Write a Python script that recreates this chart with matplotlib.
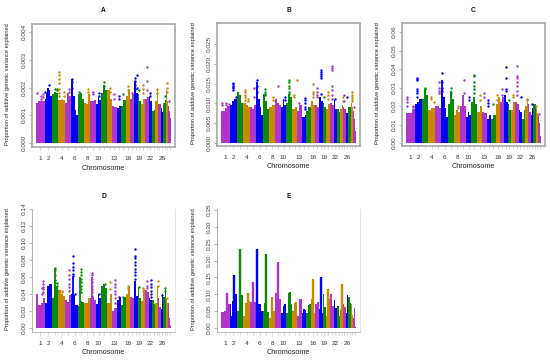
import matplotlib
matplotlib.use("Agg")
import matplotlib.pyplot as plt

plt.rcParams['font.family'] = ['Liberation Sans', 'DejaVu Sans']

W, H = 550, 363
chrom_mb = [158,137,121,120,121,119,113,113,105,104,107,91,84,84,85,81,75,66,64,72,71,61,52,62,43,51,45,46,51]
labelled = [1,2,4,6,8,10,13,16,19,22,26]
colours = ['#B035CC','#0000F5','#0A8A0A','#CC8800']
ylabel_txt = "Proportion of additive genetic variance explained"

# body heights, one list per chromosome (split evenly along it)
body_A = [[1.45,1.5,1.5,1.5],[1.6,1.8,2.0,1.9,1.7],[1.75,1.85,1.8],[1.55,1.55,1.6,1.55],[1.45,1.8,1.7],
          [2.2,1.7,1.2,1.0],[1.75,1.8,1.6],[1.45,1.4,1.75],[1.5,1.5,1.55],[1.4,1.65,1.55],
          [1.8,2.1,1.9],[1.9,1.6],[1.35,1.3],[1.25,1.35],[1.35,1.55],
          [1.7,1.95],[1.6,1.75],[2.25,1.8],[1.75,1.5],[1.4,1.6],
          [1.6,1.65],[1.7,1.5],[1.15,1.2],[1.5,1.9],[1.4,1.4],
          [1.25,1.1],[1.45,1.55],[1.9,1.5],[1.35,1.15,0.9]]
body_B = [[8,8.2,8.8,9.4],[9.5,10.5,11],[13,12,10],[10,9.5,9],[9,8.5,9.5],
          [14.5,11,9,7],[12.5,10.5,8.5],[9,9.5],[11,10,9.5],[9,11,9.5],
          [10,12.5,11.5],[8.5,9],[8,9.5],[6.5,6.5,7],[8,9],
          [10.5,9.5],[9.5,9],[11.5,10.5],[10,9],[8.5,9.8],
          [10,9.5],[10.8,8.5],[8.5,7.8],[8.5,9.5],[9,8.5],
          [7.5,7.5],[9,9],[10,9],[8,6,3]]
body_C = [[16,16,16,18.5],[21,22,24],[24,29,26],[18,19,19],[20,20,19],
          [30,25,19,14],[21,28,24],[15,18,17],[20,26,20],[14,17,15],
          [22,25,21],[17,20],[17,16],[13,15],[13,15],
          [21,25],[22,25],[26,22],[21,18],[18,22],
          [22,21],[18,17],[13,18],[20,23],[21,17],
          [15,19],[21,21],[19,16],[15,11,4]]
body_D = [[40,27,27,30,35],[30,30,50,52,52],[35,55,50],[45,40,38],[33,31,39],
          [40,39,27,27],[26,32,31],[30,30,35],[35,36,33],[28,40,35],
          [50,52,47],[30,40],[20,24],[33,36],[27,37],
          [40,50],[37,35],[55,38],[48,35],[32,46],
          [45,42],[35,33],[33,28],[30,50],[35,25],
          [22,40],[36,47],[34,30],[30,12,4]]
body_E = [[48,48,50,75,72],[70,35,80,100,100],[50,95,98],[35,75,78,80],[78,78,76],
          [85,70,72,50],[50,75,50,48],[30,80,50],[105,88,85],[45,65,70],
          [45,105,108,70],[50,75,76],[35,87,87],[45,57,52],[45,68,70],
          [85,80,45],[72,78],[55,60,45],[100,62],[35,115,85],
          [100,65],[83,60],[65,35],[55,60],[72,62],
          [45,97],[92,75],[72,40],[30,58,22,3]]

# narrow peaks: chromosome, place along it, height
stems_A = [(6,0.1,2.3)]
stems_B = [(6,0.1,15.5)]
stems_C = [(6,0.15,34)]
stems_D = [(3,0.4,71),(6,0.2,61),(7,0.4,60),(9,0.4,60)]
stems_E = [(1,0.75,105),(2,0.55,158),(3,0.45,233),(4,0.75,105),(5,0.5,137),(6,0.15,233),(7,0.55,220),(8,0.45,92),
           (9,0.55,197),(16,0.5,145),(18,0.5,150),(24,0.5,130),(20,0.5,115)]

# stacked points: chromosome, place along it, heights
dots_A = [(1,0.1,[1.8]),(1,0.6,[1.7,1.6]),(1,0.85,[1.75,1.65]),(2,0.55,[2.1]),(2,0.1,[1.85]),(3,0.4,[1.95]),(3,0.8,[1.95,1.9]),
          (4,0.15,[2.55,2.45,2.3,2.15,1.95,1.8,1.7]),(4,0.8,[1.85,1.7]),(5,0.6,[1.95,1.85]),(6,0.15,[2.3,2.2,2.0]),(7,0.2,[1.85]),
          (8,0.7,[1.95,1.85]),(9,0.5,[1.85,1.75]),(10,0.5,[1.8,1.7]),(11,0.5,[2.2,2.05]),(12,0.5,[2.0,1.85]),(13,0.5,[1.75,1.6]),
          (14,0.5,[1.7,1.6]),(15,0.5,[1.75]),(16,0.6,[2.05,1.9]),(17,0.4,[1.8]),(18,0.3,[2.35,2.25,2.1,1.95]),(18,0.8,[2.45,2.0]),
          (19,0.5,[1.9]),(20,0.5,[2.1,1.95,1.8]),(21,0.4,[2.75,2.25,1.9]),(22,0.5,[1.8,1.7]),(24,0.5,[1.95,1.8]),
          (27,0.5,[1.7]),(28,0.4,[2.15,2.0,1.85]),(29,0.1,[1.5])]
dots_B = [(1,0.1,[10.2,9.5]),(1,0.55,[10,9.5]),(1,0.9,[9.8]),(2,0.5,[15.2,14.8,14.5,14.2,13.8,13.4]),(2,0.9,[11.5]),
          (4,0.2,[13.5,13,12.2,11.5,10.8]),(4,0.7,[11,10.5]),(5,0.7,[14,11.5]),(6,0.1,[15.8,14.5,13]),(7,0.3,[13.7,13,12.5,12]),
          (8,0.6,[11.5,10.8]),(9,0.6,[14.5]),(10,0.7,[11.5,10.8]),(11,0.5,[16,15.5,14.5,13.8,13,12.5]),(12,0.4,[12,11.5]),(12,0.9,[16]),
          (13,0.4,[10.2]),(14,0.7,[11.3,10.8,10,9,8.5]),(16,0.5,[15,13,12.5,11.5]),(17,0.5,[13.8,13,12,11.5]),
          (18,0.6,[18.5,18,17.5,17,16.5,12.5]),(19,0.5,[11.5]),(20,0.6,[13,12.2,11]),(21,0.5,[19.5,19,18.4,14.5,13.5,12,11]),
          (22,0.5,[11]),(24,0.8,[10.5,11.5]),(25,0.3,[12,10.5]),(26,0.6,[11.5]),(28,0.5,[12.8,12.2,11.5,11,10.5]),(29,0.1,[9])]
dots_C = [(1,0.1,[25,24,22,20]),(1,0.8,[20,19.5]),(2,0.4,[35,34.5,34,29,28,27,25]),(3,0.4,[30,29]),(4,0.4,[25,24]),(4,0.8,[22]),
          (5,0.7,[33,30,28,27]),(6,0.1,[38,33,30,28,25]),(7,0.5,[29.5,27]),(8,0.6,[20,19]),(9,0.7,[34,27]),(10,0.6,[25,23.5]),
          (11,0.5,[36.5,36,33,31,29,27]),(12,0.5,[26,23]),(13,0.5,[27,25]),(14,0.4,[23,21.5,20]),(15,0.5,[21]),(16,0.3,[26,23]),
          (17,0.4,[29,26]),(18,0.4,[41,35,29,28]),(19,0.5,[23]),(20,0.5,[26,25]),(21,0.5,[41.5,36,35,33,31,28,26]),(22,0.7,[25]),
          (24,0.6,[24,23]),(26,0.6,[21]),(28,0.2,[20]),(29,0.1,[15.5])]
dots_D = [(1,0.85,[55,52,48,46,42]),(1,0.65,[47,40]),(3,0.45,[71,68,62,56,53]),(3,0.8,[53,50,45]),(4,0.6,[44,42]),
          (5,0.6,[68,62,58,52,48,44]),(6,0.2,[85,76,72,68,64,61]),(6,0.5,[40]),(7,0.5,[70,66,62,58,54,50,46,42]),
          (9,0.4,[65,62,58,54,50,46,42,38]),(10,0.5,[40]),(11,0.6,[52,46,42]),(12,0.5,[54,46]),(13,0.6,[56,52,48,44,40,35,30]),
          (14,0.5,[36]),(15,0.5,[37]),(16,0.5,[50,47]),(18,0.3,[93,85,82,78,74,70,66,62,58]),(19,0.5,[48]),(20,0.6,[47,44]),
          (21,0.5,[55,50,47]),(22,0.7,[57,52,48,44,40,37]),(24,0.8,[55,50]),(26,0.5,[39]),(27,0.6,[47,43]),(28,0.3,[35])]
dots_E = []

panels = [
    ('A',(32,175,24,147),143,32,0.004,[0,0.001,0.002,0.003,0.004],'%.3f',body_A,stems_A,dots_A),
    ('B',(217,360,23,146),143,44,0.025,[0,0.005,0.01,0.015,0.02,0.025],'%.3f',body_B,stems_B,dots_B),
    ('C',(402,545,23,146),143,32,0.06,[0,0.01,0.02,0.03,0.04,0.05,0.06],'%.2f',body_C,stems_C,dots_C),
    ('D',(32,175,209,332),328,209,0.14,[0,0.02,0.04,0.06,0.08,0.10,0.12,0.14],'%.2f',body_D,stems_D,dots_D),
    ('E',(217,360,209,332),328,210,0.35,[0,0.05,0.10,0.15,0.20,0.25,0.30,0.35],'%.2f',body_E,stems_E,dots_E),
]
unit = 1e-3

total = sum(chrom_mb)
starts = [sum(chrom_mb[:i]) for i in range(len(chrom_mb))]

fig = plt.figure(figsize=(W/100,H/100),dpi=100)
for name,(x0,x1,top,bot),zero_px,ref_px,ref_val,yticks,fmt,body,stems,dots in panels:
    ax = fig.add_axes([x0/W,1-bot/H,(x1-x0)/W,(bot-top)/H])
    mb_per_px = total/(x1-x0-8)
    ax.set_xlim(-4*mb_per_px,total+4*mb_per_px)
    per_px = ref_val/(zero_px-ref_px)
    ax.set_ylim(-(bot-zero_px)*per_px,(zero_px-top)*per_px)

    for i,levels in enumerate(body):
        w = chrom_mb[i]/len(levels)
        xs = [starts[i]+w*(j+0.5) for j in range(len(levels))]
        ax.bar(xs,[v*unit for v in levels],width=w*1.02,color=colours[i%4],linewidth=0)
    for c,f,v in stems:
        x = starts[c-1]+f*chrom_mb[c-1]
        ax.vlines(x,0,v*unit,color=colours[(c-1)%4],linewidth=1.7 if name=='E' else 1.3)
    for c,f,vals in dots:
        x = starts[c-1]+f*chrom_mb[c-1]
        ax.scatter([x]*len(vals),[v*unit for v in vals],s=3,color=colours[(c-1)%4],linewidths=0,zorder=3)

    mids = [starts[i]+chrom_mb[i]/2 for i in range(len(chrom_mb))]
    ax.set_xticks(mids)
    ax.set_xticklabels([str(i+1) if i+1 in labelled else '' for i in range(len(chrom_mb))],fontsize=4.6,color='#333333')
    ax.set_yticks(yticks)
    ax.set_yticklabels([fmt%t for t in yticks],rotation=90,va='center',fontsize=4.6,color='#444444')
    ax.tick_params(axis='x',length=2.5,width=0.5,color='#cccccc',pad=4)
    ax.tick_params(axis='y',length=2.5,width=0.5,color='#999999',pad=1.5)
    for s in ax.spines.values():
        if name in 'ABC':
            s.set_color('#a8a8a8')
            s.set_linewidth(1.2)
        else:
            s.set_color('#dddddd')
            s.set_linewidth(0.5)
    if name in 'DE':
        ax.spines['left'].set_color('#999999')
        ax.spines['top'].set_visible(False)
        ax.spines['bottom'].set_color('#aaaaaa')

    fig.text((x0+x1)/2/W,1-(bot+21)/H,"Chromosome",ha='center',va='center',fontsize=5.2,color='#222222')
    fig.text((x0-24)/W,1-(top+bot-2)/2/H,ylabel_txt,rotation=90,ha='center',va='center',fontsize=4.1,color='#222222')
    title_y = 10.5 if name in 'ABC' else 196
    fig.text((x0+x1)/2/W,1-title_y/H,name,ha='center',va='center',fontsize=4.8,fontweight='bold',color='#111111')

fig.savefig('out.png',dpi=100)
